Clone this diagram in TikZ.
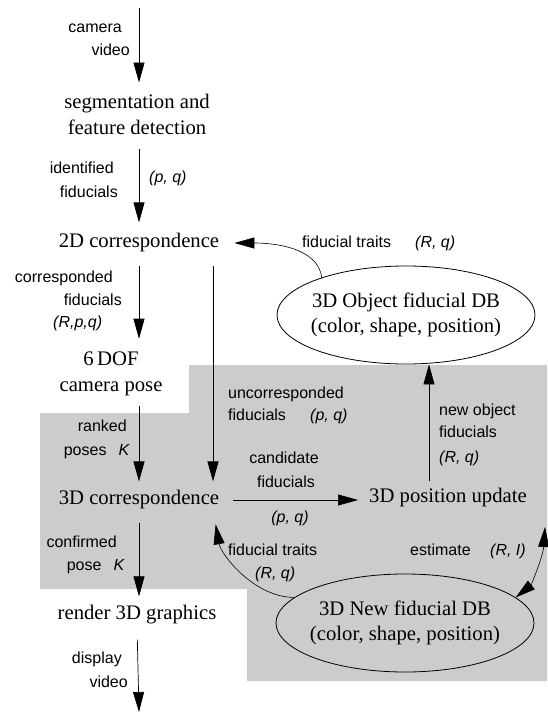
\documentclass[tikz,border=0pt]{standalone}
\usepackage{fontspec}
\setmainfont{Liberation Serif}
\newfontfamily\labfont{Liberation Sans}
\usetikzlibrary{arrows.meta,shapes.geometric,calc}
\begin{document}
\begin{tikzpicture}[x=1pt,y=-1pt,
  lbl/.style={font=\labfont\fontsize{16}{23}\selectfont, inner sep=0pt},
  txt/.style={font=\fontsize{20.7}{26}\selectfont, inner sep=0pt, align=center},
  db/.style={ellipse, draw, line width=0.8pt, minimum width=258pt, minimum height=98pt,
    inner xsep=-30pt, inner ysep=-10pt, font=\fontsize{20.7}{25}\selectfont, align=center},
  tip/.style={-{Triangle[length=20pt,width=11pt]}},
  conn/.style={draw, line width=0.7pt, tip},
  curv/.style={draw, line width=0.6pt, tip}]
\useasboundingbox (0,0) rectangle (547,712);
\fill[black!20] (189,365) -- (547,365) -- (547,681) -- (247,681) -- (247,589)
  -- (40,589) -- (40,413) -- (189,413) -- cycle;

% main nodes
\node[txt] (seg) at (137,114) {segmentation and\\feature detection};
\node[txt] (c2d) at (139,243) {2D correspondence};
\node[txt] (dof) at (111,374) {6\,DOF\\camera pose};
\node[txt] (c3d) at (139,500) {3D correspondence};
\node[txt] (upd) at (448,498) {3D position update};
\node[txt] (ren) at (137,615) {render 3D graphics};
\node[db] (db1) at (406,315) {3D Object fiducial DB\\(color, shape, position)};
\node[db] (db2) at (405,623) {3D New fiducial DB\\(color, shape, position)};

% free ends and guide coordinates
\coordinate (in) at (139,8);
\coordinate (out) at (139,712);
\coordinate (ux) at (213,0);
\coordinate (vx) at (429,0);
\coordinate (rc) at (545,527);

% labels
\node[lbl, anchor=base east] (la1) at (122,32) {camera};
\node[lbl, anchor=base east] (la2) at (130,55) {video};
\node[lbl, anchor=base east] (lb1) at (114,173) {identified};
\node[lbl, anchor=base east] (lb2) at (118,197) {fiducials};
\node[lbl, anchor=base west] (lb3) at (149,182) {\textit{(p, q)}};
\node[lbl, anchor=base east] (lc1) at (113,282) {corresponded};
\node[lbl, anchor=base east] (lc2) at (122,305) {fiducials};
\node[lbl, anchor=base west] (lc3) at (53,327) {\textit{(R,p,q)}};
\node[lbl, anchor=base east] (ld1) at (127,431) {ranked};
\node[lbl, anchor=base east] (ld2) at (130,455) {poses\hspace{12pt}\textit{K}};
\node[lbl, anchor=base east] (le1) at (117,547) {confirmed};
\node[lbl, anchor=base east] (le2) at (125,570) {pose\hspace{12pt}\textit{K}};
\node[lbl, anchor=base east] (lf1) at (122,663) {display};
\node[lbl, anchor=base east] (lf2) at (128,687) {video};
\node[lbl, anchor=base west] (lg1) at (228,398) {uncorresponded};
\node[lbl, anchor=base west] (lg2) at (228,420) {fiducials};
\node[lbl, anchor=base west] (lg3) at (310,420) {\textit{(p, q)}};
\node[lbl, anchor=base] (lh1) at (284,463) {candidate};
\node[lbl, anchor=base] (lh2) at (286,487) {fiducials};
\node[lbl, anchor=base] (lh3) at (290,522) {\textit{(p, q)}};
\node[lbl, anchor=base west] (li1) at (439,415) {new object};
\node[lbl, anchor=base west] (li2) at (439,437) {fiducials};
\node[lbl, anchor=base west] (li3) at (439,462) {\textit{(R, q)}};
\node[lbl, anchor=base west] (lj1) at (302,247) {fiducial traits};
\node[lbl, anchor=base west] (lj2) at (415,247) {\textit{(R, q)}};
\node[lbl, anchor=base west] (lk1) at (228,555) {fiducial traits};
\node[lbl, anchor=base west] (lk2) at (255,578) {\textit{(R, q)}};
\node[lbl, anchor=base west] (ll1) at (410,555) {estimate};
\node[lbl, anchor=base west] (ll2) at (490,555) {\textit{(R, I)}};

% straight connectors
\draw[conn, shorten >=11pt] (in) -- (in |- seg.north);
\draw[conn, shorten <=15pt, shorten >=11pt] (c2d.north |- seg.south) -- (c2d.north);
\draw[conn, shorten <=13pt, shorten >=13pt] (c2d.south) -- (c2d.south |- dof.north);
\draw[conn, shorten <=13pt, shorten >=9pt] (ux |- c2d.south) -- (ux |- c3d.north);
\draw[conn, shorten <=10pt, shorten >=9pt] (c3d.north |- dof.south) -- (c3d.north);
\draw[conn, shorten <=13pt, shorten >=9pt] (c3d.south) -- (c3d.south |- ren.north);
\draw[conn, shorten <=15pt] (ren.south) -- (out);
\draw[conn, shorten <=14pt, shorten >=11pt] (c3d.east) -- (c3d.east -| upd.west);
\draw[conn, shorten <=7pt] (vx |- upd.north) -- (vx |- db1.south);

% curved connectors
\draw[curv, shorten >=15pt] (db1.156) .. controls ($(db1.156)+(-4,-30)$) and ($(c2d.east)+(55,0)$) .. (c2d.east);
\draw[curv, shorten >=15pt] (db2.167) .. controls ($(db2.167)+(-40,0)$) and ($(ux |- c3d.south)+(8,45)$) .. (ux |- c3d.south);
\draw[curv, {Triangle[length=20pt,width=11pt]}-{Triangle[length=20pt,width=11pt]}]
  (db2.13) .. controls ($(db2.13)+(15,-12)$) and ($(rc)+(-2,30)$) .. (rc);
\end{tikzpicture}
\end{document}
